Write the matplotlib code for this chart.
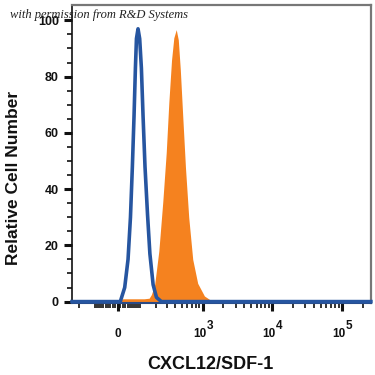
import numpy as np
import matplotlib.pyplot as plt

plt.rcParams['font.family'] = ['Liberation Sans', 'DejaVu Sans']

# isotype control (blue outline), intensity vs relative count
iso_x = [-264, 10, 28, 42, 52.5, 61, 68.6, 75, 80, 87.7, 96, 105, 114, 125,
         140, 155, 177, 202, 243, 262143]
iso_y = [0, 0, 5, 15, 30, 48, 66, 83, 93.5, 97, 93.5, 83, 66, 48, 31, 17, 6, 1.5, 0, 0]

# CXCL12/SDF-1 stained (orange filled)
stain_x = [-264, 5, 20, 60, 120, 150, 165, 188, 221, 256, 290, 318, 350, 379, 412,
           442, 474, 517, 565, 630, 721, 851, 1064, 1327, 1550, 262143]
stain_y = [0, 0, 1.0, 1.0, 1.0, 1.2, 2.5, 6.0, 18.0, 35.5, 53.0, 70.7, 85.9, 93.8,
           96.7, 93.1, 82.4, 65.0, 47.5, 30.0, 15.0, 6.5, 2.0, 0.4, 0, 0]

x_major = [0, 1e3, 1e4, 1e5]
x_exponents = ['', '3', '4', '5']
y_major = [0, 20, 40, 60, 80, 100]

C = 122.0


def fwd(x):
    return np.arcsinh(np.asarray(x, dtype=float) / C)


def inv(u):
    return C * np.sinh(u)


x_minor = [s * v for s in (-1, 1) for v in range(10, 100, 10)]
x_minor += [-200, -100, 100] + list(range(200, 1000, 100))
x_minor += [m * d for d in (1e3, 1e4) for m in range(2, 10)]
x_minor += [2e5]

fig = plt.figure(figsize=(3.75, 3.75), dpi=100)
ax = fig.add_axes([0.192, 0.192, 0.797, 0.795])
ax.set_xscale('function', functions=(fwd, inv))

ax.fill_between(stain_x, stain_y, color='#f5821f', lw=0, zorder=2)
ax.plot(iso_x, iso_y, color='#2655a0', lw=2.6, zorder=3, clip_on=False)

ax.set_xlim(-264, 262143)
ax.set_ylim(-0.5, 105.5)

ax.set_xticks(x_major)
ax.set_xticklabels([])
ax.set_xticks(x_minor, minor=True)
ax.set_yticks(y_major)
ax.set_yticks(np.arange(0, 105, 5), minor=True)

ax.tick_params(which='major', length=6, width=2.2, color='#111', labelsize=9,
               labelcolor='#111')
ax.tick_params(which='minor', length=3.5, width=1.2, color='#111')
for lab in ax.get_yticklabels():
    lab.set_fontweight('bold')

# x tick labels: "0" and 10 with full-size exponent
for xv, ex in zip(x_major, x_exponents):
    if ex == '':
        ax.annotate('0', (xv, 0), xycoords=('data', 'axes fraction'),
                    xytext=(0, -22), textcoords='offset points', ha='center',
                    va='center', fontsize=8.5, fontweight='bold', color='#111')
    else:
        ax.annotate('10', (xv, 0), xycoords=('data', 'axes fraction'),
                    xytext=(2.5, -22), textcoords='offset points', ha='right',
                    va='center', fontsize=8.5, fontweight='bold', color='#111')
        ax.annotate(ex, (xv, 0), xycoords=('data', 'axes fraction'),
                    xytext=(3, -16.5), textcoords='offset points', ha='left',
                    va='center', fontsize=8.5, fontweight='bold', color='#111')

for side in ('top', 'right'):
    ax.spines[side].set_color('#777')
    ax.spines[side].set_linewidth(1.6)
ax.spines['left'].set_color('#111')
ax.spines['left'].set_linewidth(1.2)
ax.spines['bottom'].set_color('#2a4a85')
ax.spines['bottom'].set_linewidth(1.5)

ax.set_ylabel('Relative Cell Number', fontsize=12.5, fontweight='bold', color='#111')
ax.yaxis.set_label_coords(-0.17, 0.42)
ax.set_xlabel('CXCL12/SDF-1', fontsize=13, fontweight='bold', color='#111')
ax.xaxis.set_label_coords(0.462, -0.178)

fig.text(0.027, 0.96, 'with permission from R&D Systems', family='Liberation Serif',
         style='italic', fontsize=9, color='#222', va='center')

fig.savefig('out.png', dpi=100)
